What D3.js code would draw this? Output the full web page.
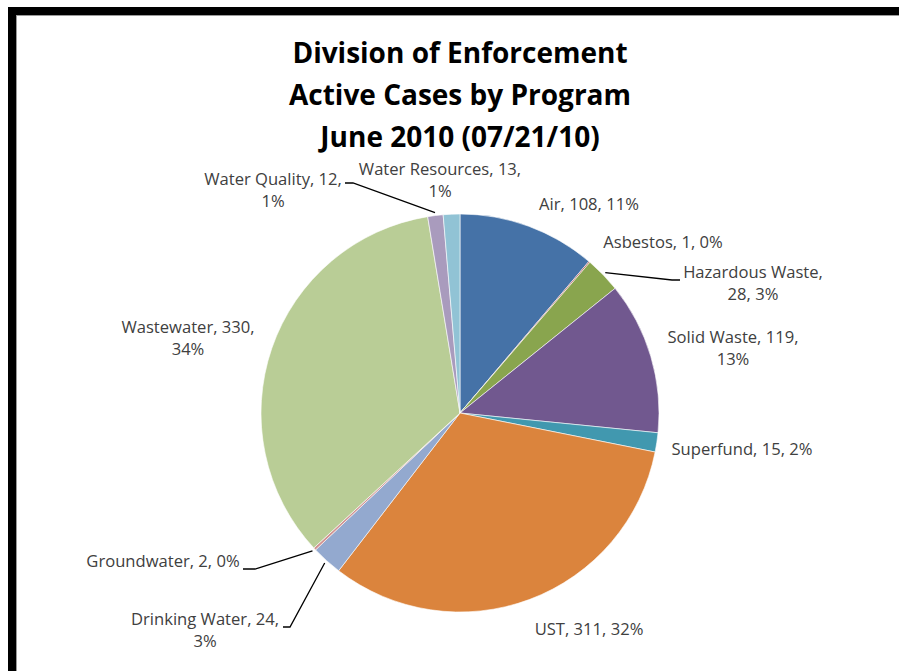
<!DOCTYPE html>
<html>
<head>
<meta charset="utf-8">
<script src="https://cdn.jsdelivr.net/npm/d3@7"></script>
<style>
  html, body { margin: 0; padding: 0; background: #fff; }
  svg { display: block; }
</style>
</head>
<body>
<svg id="chart" width="899" height="671"></svg>
<script>
// Active enforcement cases by program, June 2010
const categories = ["Air", "Asbestos", "Hazardous Waste", "Solid Waste", "Superfund", "UST",
  "Drinking Water", "Groundwater", "Wastewater", "Water Quality", "Water Resources"];
const caseCounts = [108, 1, 28, 119, 15, 311, 24, 2, 330, 12, 13];
const percentLabels = ["11%", "0%", "3%", "13%", "2%", "32%", "3%", "0%", "34%", "1%", "1%"];
const sliceColors = ["#4572A7", "#AA4643", "#89A54E", "#71588F", "#4198AF", "#DB843D",
  "#93A9CF", "#D19392", "#B9CD96", "#A99BBD", "#91C3D5"];
const titleLines = ["Division of Enforcement", "Active Cases by Program", "June 2010 (07/21/10)"];

// Label placement: text anchor point (center x, first baseline y), line breaking, optional leader
const labelLayout = [
  { x: 589, y: 210, lines: 1 },
  { x: 663, y: 248, lines: 1 },
  { x: 753, y: 278, lines: 2, leader: [[672, 280], [680, 280]] },
  { x: 733, y: 343, lines: 2 },
  { x: 742, y: 455, lines: 1 },
  { x: 589, y: 635, lines: 1 },
  { x: 205, y: 625, lines: 2, leader: [[290, 627], [283, 627]] },
  { x: 163, y: 567, lines: 1, leader: [[255, 569], [243, 569]] },
  { x: 188, y: 333, lines: 2 },
  { x: 273, y: 185, lines: 2, leader: [[353, 183], [345, 183]] },
  { x: 440, y: 175, lines: 2 }
];

const svg = d3.select("#chart");
const W = 899, H = 671;

svg.append("rect").attr("width", W).attr("height", H).attr("fill", "#fff");

// Frame around the chart area
svg.append("rect").attr("x", 12).attr("y", 11).attr("width", 1000).attr("height", 1000)
  .attr("fill", "none").attr("stroke", "#000").attr("stroke-width", 8);
svg.append("rect").attr("x", 16.5).attr("y", 15.5).attr("width", 1000).attr("height", 1000)
  .attr("fill", "none").attr("stroke", "#9a9a9a").attr("stroke-width", 1);

const font = "'Open Sans', Lato, 'DejaVu Sans', sans-serif";

// Title
svg.append("g").selectAll("text").data(titleLines).join("text")
  .attr("x", 460)
  .attr("y", (d, i) => 63 + i * 42)
  .attr("text-anchor", "middle")
  .attr("font-family", font)
  .attr("font-weight", "bold")
  .attr("font-size", 28)
  .attr("fill", "#000")
  .text(d => d);

// Pie
const cx = 460, cy = 413, r = 199;
const data = categories.map((c, i) => ({ name: c, value: caseCounts[i], pct: percentLabels[i], color: sliceColors[i], layout: labelLayout[i] }));
const pie = d3.pie().value(d => d.value).sort(null).startAngle(0).endAngle(2 * Math.PI);
const arcs = pie(data);
const arc = d3.arc().innerRadius(0).outerRadius(r);

const g = svg.append("g").attr("transform", `translate(${cx},${cy})`);
g.selectAll("path").data(arcs).join("path")
  .attr("d", arc)
  .attr("fill", d => d.data.color)
  .attr("stroke", "#fff")
  .attr("stroke-width", 0.6)
  .attr("stroke-linejoin", "round");

// Leader lines from slice edge to label
const edge = d3.arc().innerRadius(r + 3).outerRadius(r + 3);
const leaders = svg.append("g").attr("fill", "none").attr("stroke", "#000").attr("stroke-width", 1.3);
arcs.forEach(a => {
  const L = a.data.layout;
  if (!L.leader) return;
  const [ex, ey] = edge.centroid(a);
  const pts = [[cx + ex, cy + ey], ...L.leader];
  leaders.append("path").attr("d", d3.line()(pts));
});

// Data labels: "Name, value, pct", wrapped to two lines where needed
const labels = svg.append("g")
  .attr("font-family", font)
  .attr("font-size", 16.6)
  .attr("fill", "#404040")
  .attr("text-anchor", "middle");
arcs.forEach(a => {
  const d = a.data, L = d.layout;
  const full = `${d.name}, ${d.value}, ${d.pct}`;
  let rows;
  if (L.lines === 1) rows = [full];
  else if (d.name === "Hazardous Waste") rows = [`${d.name},`, `${d.value}, ${d.pct}`];
  else rows = [`${d.name}, ${d.value},`, d.pct];
  rows.forEach((t, i) => {
    labels.append("text").attr("x", L.x).attr("y", L.y + i * 22).text(t);
  });
});
</script>
</body>
</html>
